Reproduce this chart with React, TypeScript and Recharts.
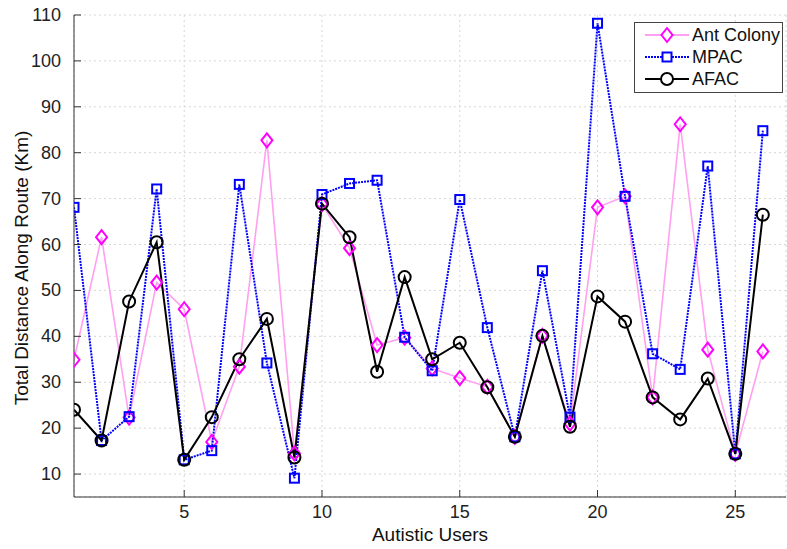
import React from 'react';
import { LineChart, Line, XAxis, YAxis, CartesianGrid, Legend, Label } from 'recharts';

const users = [1, 2, 3, 4, 5, 6, 7, 8, 9, 10, 11, 12, 13, 14, 15, 16, 17, 18, 19, 20, 21, 22, 23, 24, 25, 26];
const antColony = [34.9, 61.6, 22.3, 51.7, 45.9, 17.0, 33.4, 82.7, 14.5, 68.8, 59.2, 38.1, 39.7, 33.0, 30.9, 29.0, 18.1, 40.1, 21.0, 68.1, 70.5, 26.7, 86.2, 37.1, 14.4, 36.7];
const mpac = [68.1, 17.3, 22.5, 72.1, 13.1, 15.1, 73.1, 34.2, 9.1, 70.9, 73.3, 74.0, 39.8, 32.5, 69.8, 41.9, 18.1, 54.3, 22.4, 108.2, 70.5, 36.2, 32.8, 77.1, 14.4, 84.8];
const afac = [24.0, 17.3, 47.6, 60.5, 13.1, 22.4, 35.0, 43.8, 13.6, 68.9, 61.6, 32.3, 52.9, 35.0, 38.6, 28.9, 18.1, 40.1, 20.3, 48.7, 43.2, 26.7, 21.9, 30.8, 14.4, 66.5];
const seriesNames = ['Ant Colony', 'MPAC', 'AFAC'];
const xTicks = [5, 10, 15, 20, 25];
const yTicks = [10, 20, 30, 40, 50, 60, 70, 80, 90, 100, 110];
const xDomain = [1, 26.84];
const yDomain = [5, 110];

const data = users.map((u, i) => ({ user: u, ant: antColony[i], mpac: mpac[i], afac: afac[i] }));

const FONT = '"Liberation Sans", Arial, Helvetica, sans-serif';
const MAGENTA = '#ff00ff';
const PINK_LINE = '#ffa0f0';
const BLUE = '#0000ff';
const BLACK = '#000000';
const TICK_LEN = 7;

const Diamond = (props: any) => {
  const { cx, cy, index } = props;
  if (cx == null || cy == null) return <g key={`a${index}`} />;
  return (
    <path key={`a${index}`} d={`M${cx},${cy - 7} L${cx + 5.5},${cy} L${cx},${cy + 7} L${cx - 5.5},${cy} Z`} fill="none" stroke={MAGENTA} strokeWidth={2} />
  );
};
const Square = (props: any) => {
  const { cx, cy, index } = props;
  if (cx == null || cy == null) return <g key={`m${index}`} />;
  return <rect key={`m${index}`} x={cx - 4.5} y={cy - 4.5} width={9} height={9} fill="none" stroke={BLUE} strokeWidth={2} />;
};
const Circle = (props: any) => {
  const { cx, cy, index } = props;
  if (cx == null || cy == null) return <g key={`c${index}`} />;
  return <circle key={`c${index}`} cx={cx} cy={cy} r={6} fill="none" stroke={BLACK} strokeWidth={2} />;
};

const BottomTick = (props: any) => {
  const { x, y, payload } = props;
  return (
    <g>
      <line x1={x} y1={y} x2={x} y2={y - TICK_LEN} stroke="#333" strokeWidth={1} />
      <text x={x} y={y + 21} textAnchor="middle" fontFamily={FONT} fontSize={18} fill="#222">{payload.value}</text>
    </g>
  );
};
const TopTick = (props: any) => {
  const { x, y } = props;
  return <line x1={x} y1={y} x2={x} y2={y + TICK_LEN} stroke="#333" strokeWidth={1} />;
};
const LeftTick = (props: any) => {
  const { x, y, payload } = props;
  return (
    <g>
      <line x1={x} y1={y} x2={x + TICK_LEN} y2={y} stroke="#333" strokeWidth={1} />
      <text x={x - 13} y={y + 6} textAnchor="end" fontFamily={FONT} fontSize={18} fill="#222">{payload.value}</text>
    </g>
  );
};
const RightTick = (props: any) => {
  const { x, y } = props;
  return <line x1={x} y1={y} x2={x - TICK_LEN} y2={y} stroke="#333" strokeWidth={1} />;
};

const YLabel = (props: any) => {
  const vb = props.viewBox || {};
  const cx = 21;
  const cy = (vb.y || 0) + (vb.height || 0) / 2 + 12;
  return (
    <text x={cx} y={cy} transform={`rotate(-90 ${cx} ${cy})`} textAnchor="middle" dominantBaseline="central" fontFamily={FONT} fontSize={19} fill="#111">
      Total Distance Along Route (Km)
    </text>
  );
};
const XLabel = (props: any) => {
  const vb = props.viewBox || {};
  const cx = (vb.x || 0) + (vb.width || 0) / 2;
  const cy = (vb.y || 0) + 44;
  return (
    <text x={cx} y={cy} textAnchor="middle" fontFamily={FONT} fontSize={19} fill="#111">
      Autistic Users
    </text>
  );
};

const legendItems = [
  { name: seriesNames[0], color: MAGENTA, lineColor: PINK_LINE, dash: undefined, marker: 'diamond' },
  { name: seriesNames[1], color: BLUE, lineColor: BLUE, dash: '2 1', marker: 'square' },
  { name: seriesNames[2], color: BLACK, lineColor: BLACK, dash: undefined, marker: 'circle' },
];

const LegendContent = () => (
  <div style={{ width: 147, height: 67, border: '1px solid #444', background: '#fff', boxSizing: 'content-box', padding: '1px 0' }}>
    {legendItems.map((it) => (
      <div key={it.name} style={{ display: 'flex', alignItems: 'center', height: 22 }}>
        <svg width={56} height={22} style={{ display: 'block' }}>
          <line x1={10} y1={11} x2={54} y2={11} stroke={it.lineColor} strokeWidth={2} strokeDasharray={it.dash} />
          {it.marker === 'diamond' && <path d="M32,4 L37.5,11 L32,18 L26.5,11 Z" fill="#fff" stroke={it.color} strokeWidth={2} />}
          {it.marker === 'square' && <rect x={27.5} y={6.5} width={9} height={9} fill="#fff" stroke={it.color} strokeWidth={2} />}
          {it.marker === 'circle' && <circle cx={32} cy={11} r={6} fill="#fff" stroke={it.color} strokeWidth={2} />}
        </svg>
        <span style={{ fontFamily: FONT, fontSize: 18, color: '#111', marginLeft: 1, lineHeight: '22px', whiteSpace: 'nowrap' }}>{it.name}</span>
      </div>
    ))}
  </div>
);

export default function App() {
  return (
    <div style={{ position: 'absolute', left: 0, top: 0, width: 787, height: 549, background: '#fff' }}>
      <LineChart width={787} height={549} data={data} margin={{ top: 15, right: 1, bottom: 0, left: 0 }}>
        <CartesianGrid stroke="#d6d6d6" strokeDasharray="2 3" xAxisId="bottom" yAxisId="left" />
        <XAxis xAxisId="bottom" dataKey="user" type="number" domain={xDomain} ticks={xTicks} interval={0} allowDataOverflow
          height={52} tickSize={0} tickMargin={0} tickLine={false} tick={<BottomTick />} axisLine={{ stroke: '#333' }}>
          <Label content={<XLabel />} />
        </XAxis>
        <XAxis xAxisId="top" orientation="top" dataKey="user" type="number" domain={xDomain} ticks={xTicks} interval={0} allowDataOverflow
          height={0} tickSize={0} tickMargin={0} tickLine={false} tick={<TopTick />} axisLine={{ stroke: '#333' }} />
        <YAxis yAxisId="left" type="number" domain={yDomain} ticks={yTicks} interval={0} allowDataOverflow
          width={74} tickSize={0} tickMargin={0} tickLine={false} tick={<LeftTick />} axisLine={{ stroke: '#333' }}>
          <Label content={<YLabel />} />
        </YAxis>
        <YAxis yAxisId="right" orientation="right" type="number" domain={yDomain} ticks={yTicks} interval={0} allowDataOverflow
          width={0} tickSize={0} tickMargin={0} tickLine={false} tick={<RightTick />} axisLine={{ stroke: '#333' }} />
        <Legend layout="horizontal" verticalAlign="middle" align="center" wrapperStyle={{ left: 634, top: 22, width: 149 }} content={<LegendContent />} />
        <Line xAxisId="bottom" yAxisId="left" dataKey="ant" name={seriesNames[0]} stroke={PINK_LINE} strokeWidth={1.6} dot={Diamond} activeDot={false} isAnimationActive={false} />
        <Line xAxisId="bottom" yAxisId="left" dataKey="mpac" name={seriesNames[1]} stroke={BLUE} strokeWidth={2} strokeDasharray="2 1" dot={Square} activeDot={false} isAnimationActive={false} />
        <Line xAxisId="bottom" yAxisId="left" dataKey="afac" name={seriesNames[2]} stroke={BLACK} strokeWidth={2} dot={Circle} activeDot={false} isAnimationActive={false} />
      </LineChart>
    </div>
  );
}
